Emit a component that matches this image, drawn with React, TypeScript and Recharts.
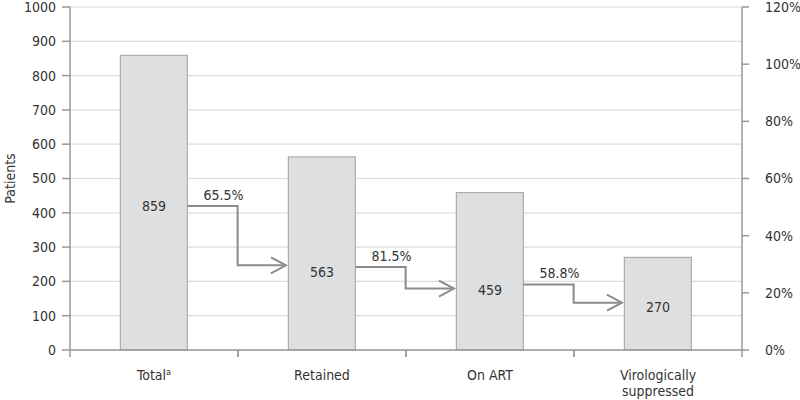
import { BarChart, Bar, XAxis, YAxis, CartesianGrid } from 'recharts'

const categories = ['Total', 'Retained', 'On ART', 'Virologically\nsuppressed']
const footnotes = ['a', '', '', '']
const patients = [859, 563, 459, 270]
const stepRates = ['65.5%', '81.5%', '58.8%']
// annotation anchors in patient units (where each arrow leaves / arrives, where the count sits)
const arrowFrom = [420, 242, 191]
const arrowTo = [247, 179, 138]
const countAt = [421, 228, 176, 126]
const patientTicks = [0, 100, 200, 300, 400, 500, 600, 700, 800, 900, 1000]
const shareTicks = [0, 0.2, 0.4, 0.6, 0.8, 1, 1.2]

const data = categories.map((name, i) => ({ name, note: footnotes[i], patients: patients[i] }))

const FONT = "'DejaVu Sans Condensed', 'Liberation Sans Narrow', sans-serif"
const FS = 14
const TEXT = '#333'
const AXIS = '#999'
const ARROW = '#8c8c8c'
const BAR_SHARE = 0.4

function FunnelBar(props: any) {
  const { x, y, width, height, index, payload } = props
  const base = y + height
  const py = (v: number) => base - (v * height) / payload.patients
  const band = width / BAR_SHARE
  const right = x + width
  const turn = x + width / 2 + band / 2
  const tip = x + band - 2
  const hasArrow = index < stepRates.length
  return (
    <g>
      <rect x={x} y={y} width={width} height={height} fill="#dedfe0" stroke="#adadad" strokeWidth={1.2} />
      <text
        x={x + width / 2}
        y={py(countAt[index])}
        dy="0.355em"
        textAnchor="middle"
        fill={TEXT}
        fontSize={FS}
        fontFamily={FONT}
      >
        {payload.patients}
      </text>
      {hasArrow && (
        <g>
          <polyline
            points={`${right},${py(arrowFrom[index])} ${turn},${py(arrowFrom[index])} ${turn},${py(arrowTo[index])} ${tip},${py(arrowTo[index])}`}
            fill="none"
            stroke={ARROW}
            strokeWidth={2}
          />
          <polyline
            points={`${tip - 15},${py(arrowTo[index]) - 8} ${tip},${py(arrowTo[index])} ${tip - 15},${py(arrowTo[index]) + 8}`}
            fill="none"
            stroke={ARROW}
            strokeWidth={2}
          />
          <text
            x={right + 16}
            y={py(arrowFrom[index]) - 6}
            fill={TEXT}
            fontSize={FS}
            fontFamily={FONT}
          >
            {stepRates[index]}
          </text>
        </g>
      )}
    </g>
  )
}

function CategoryTick({ x, y, payload }: any) {
  const half = payload.offset ?? 84
  const row = data.find((d) => d.name === payload.value)
  const lines = String(payload.value).split('\n')
  return (
    <g>
      <line x1={x - half} x2={x - half} y1={y} y2={y + 7} stroke={AXIS} strokeWidth={1.5} />
      <line x1={x + half} x2={x + half} y1={y} y2={y + 7} stroke={AXIS} strokeWidth={1.5} />
      <text x={x} y={y + 30} textAnchor="middle" fill={TEXT} fontSize={FS} fontFamily={FONT}>
        {lines.map((line, i) => (
          <tspan key={i} x={x} dy={i === 0 ? 0 : 16}>
            {line}
            {i === 0 && row?.note ? (
              <tspan fontSize={9} dy={-5}>{row.note}</tspan>
            ) : null}
          </tspan>
        ))}
      </text>
    </g>
  )
}

function PatientsLabel({ viewBox }: any) {
  const cx = 10
  const cy = viewBox.y + viewBox.height / 2
  return (
    <text
      x={cx}
      y={cy}
      transform={`rotate(-90 ${cx} ${cy})`}
      textAnchor="middle"
      dy="0.355em"
      fill={TEXT}
      fontSize={FS}
      fontFamily={FONT}
    >
      Patients
    </text>
  )
}

export default function App() {
  return (
    <div style={{ position: 'fixed', left: 0, top: 0, background: '#fff' }}>
      <BarChart
        width={800}
        height={400}
        data={data}
        margin={{ top: 7, right: 0, left: 20, bottom: 10 }}
        barCategoryGap="30%"
      >
        <CartesianGrid vertical={false} stroke="#dcdcdc" strokeWidth={1.2} />
        <XAxis
          dataKey="name"
          height={40}
          tickSize={0}
          tickMargin={0}
          interval={0}
          tick={<CategoryTick />}
          axisLine={{ stroke: AXIS, strokeWidth: 1.5 }}
        />
        <YAxis
          yAxisId={0}
          width={50}
          domain={[0, 1000]}
          ticks={patientTicks}
          interval={0}
          tickSize={8}
          tickMargin={6}
          tick={{ fill: TEXT, fontSize: FS, fontFamily: FONT }}
          tickLine={{ stroke: AXIS, strokeWidth: 1.5 }}
          axisLine={{ stroke: AXIS, strokeWidth: 1.5 }}
          label={<PatientsLabel />}
        />
        <YAxis
          yAxisId="share"
          orientation="right"
          type="number"
          width={58}
          domain={[0, 1.2]}
          allowDataOverflow
          ticks={shareTicks}
          interval={0}
          tickSize={7}
          tickMargin={16}
          tickFormatter={(v: number) => `${Math.round(v * 100)}%`}
          tick={{ fill: TEXT, fontSize: FS, fontFamily: FONT, textAnchor: 'start' }}
          tickLine={{ stroke: AXIS, strokeWidth: 1.5 }}
          axisLine={{ stroke: AXIS, strokeWidth: 1.5 }}
        />
        <Bar yAxisId={0} dataKey="patients" shape={<FunnelBar />} isAnimationActive={false} />
      </BarChart>
    </div>
  )
}
